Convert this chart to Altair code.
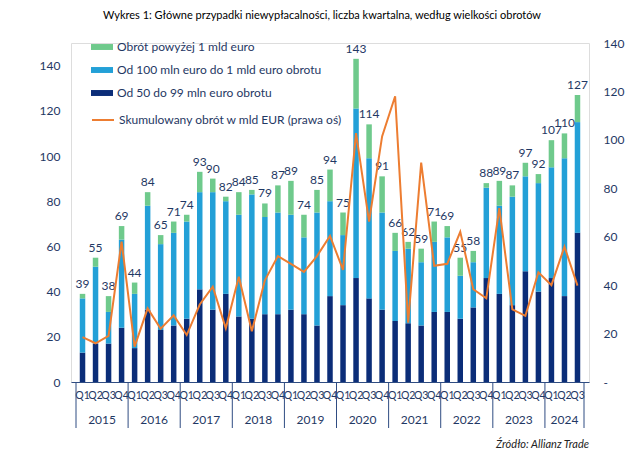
import altair as alt
import pandas as pd

# ---- data ----
years = ["2015", "2016", "2017", "2018", "2019", "2020", "2021", "2022", "2023", "2024"]
quarters = ["Q1", "Q2", "Q3", "Q4"] * 9 + ["Q1", "Q2", "Q3"]

dark = [13, 17, 17, 24, 15, 32, 23, 25, 28, 41, 32, 39, 29, 28, 30, 30, 32, 30, 25, 38,
        34, 46, 37, 32, 27, 26, 25, 31, 31, 28, 33, 46, 39, 34, 49, 40, 46, 38, 66]
mid = [24, 34, 14, 39, 24, 46, 38, 41, 43, 43, 52, 41, 45, 55, 43, 45, 42, 34, 50, 42,
       31, 75, 62, 43, 31, 33, 28, 31, 33, 19, 20, 40, 39, 48, 42, 48, 49, 61, 49]
green = [2, 4, 7, 6, 5, 6, 4, 5, 3, 9, 6, 2, 10, 2, 6, 12, 15, 10, 10, 14,
         10, 22, 15, 16, 8, 3, 6, 9, 5, 8, 5, 2, 11, 5, 6, 4, 12, 11, 12]
totals = [39, 55, 38, 69, 44, 84, 65, 71, 74, 93, 90, 82, 84, 85, 79, 87, 89, 74, 85, 94,
          75, 143, 114, 91, 66, 62, 59, 71, 69, 55, 58, 88, 89, 87, 97, 92, 107, 110, 127]
turnover = [18.5, 16, 19, 58, 14.6, 30.4, 22, 27.5, 19.4, 32, 39.4, 22.2, 43.5, 21, 42, 52,
            48.8, 45.5, 52, 60.3, 46.3, 102.8, 66.2, 101.4, 118, 24.5, 90.6, 48,
            48.8, 62, 38.3, 34.6, 71.8, 30, 27.3, 45.3, 40, 55.9, 39.8]

year_mid = [1.5, 5.5, 9.5, 13.5, 17.5, 21.5, 25.5, 29.5, 33.5, 37]
separators = [-0.5, 3.5, 7.5, 11.5, 15.5, 19.5, 23.5, 27.5, 31.5, 35.5, 38.5]

S_GREEN = "Obrót powyżej 1 mld euro"
S_MID = "Od 100 mln euro do 1 mld euro obrotu"
S_DARK = "Od 50 do 99 mln euro obrotu"
S_LINE = "Skumulowany obrót w mld EUR (prawa oś)"
TITLE = "Wykres 1: Główne przypadki niewypłacalności, liczba kwartalna, według wielkości obrotów"
SOURCE = "Źródło: Allianz Trade"

FONT = "Lato"
NAVY = "#1F3864"
C_GREEN, C_MID, C_DARK, C_LINE = "#6FCA8C", "#23A0D7", "#0B2D78", "#ED7D31"

W, H = 518, 339

idx = list(range(len(totals)))
rows = []
for i in idx:
    rows.append({"idx": i, "series": S_DARK, "value": dark[i], "ord": 0})
    rows.append({"idx": i, "series": S_MID, "value": mid[i], "ord": 1})
    rows.append({"idx": i, "series": S_GREEN, "value": green[i], "ord": 2})
bars_df = pd.DataFrame(rows)
tot_df = pd.DataFrame({"idx": idx, "total": totals, "q": quarters, "turn": turnover, "s": [S_LINE] * len(idx)})
year_df = pd.DataFrame({"mid": year_mid, "year": years})
sep_df = pd.DataFrame({"x": separators})

xscale = alt.Scale(domain=[-0.5, 38.5], nice=False, zero=False)
xenc = alt.X("idx:Q", scale=xscale,
             axis=alt.Axis(labels=False, ticks=False, grid=False, title=None,
                           domainColor="#2F4C82", domainWidth=1))

left_scale = alt.Scale(domain=[0, 150], nice=False)
left_axis = alt.Axis(values=list(range(0, 141, 20)), grid=False, ticks=False, domain=False,
                     title=None, labelFont=FONT, labelFontSize=12, labelColor=NAVY,
                     labelPadding=11)

bars = alt.Chart(bars_df).mark_bar(size=5.5).encode(
    x=xenc,
    y=alt.Y("value:Q", stack="zero", scale=left_scale, axis=left_axis, title=None),
    color=alt.Color("series:N",
                    scale=alt.Scale(domain=[S_GREEN, S_MID, S_DARK], range=[C_GREEN, C_MID, C_DARK]),
                    legend=alt.Legend(orient="none", legendX=20, legendY=-7, title=None,
                                      symbolType="M-1,-0.27H1V0.27H-1Z", symbolSize=484,
                                      symbolStrokeWidth=0, labelFont=FONT, labelFontSize=12,
                                      labelColor=NAVY, rowPadding=6, padding=0, labelOffset=4,
                                      labelLimit=0)),
    order=alt.Order("ord:Q", sort="ascending"),
)

labels = alt.Chart(tot_df).mark_text(font=FONT, fontSize=12, color=NAVY, baseline="alphabetic", dy=-6).encode(
    x=alt.X("idx:Q", scale=xscale),
    y=alt.Y("total:Q", scale=left_scale, axis=left_axis, title=None),
    text="total:Q",
)

line = alt.Chart(tot_df).mark_line(strokeWidth=2).encode(
    x=alt.X("idx:Q", scale=xscale),
    y=alt.Y("turn:Q", scale=alt.Scale(domain=[0, 140], nice=False),
            axis=alt.Axis(orient="right", values=list(range(0, 141, 20)), grid=False, ticks=False,
                          domain=False, title=None, labelFont=FONT, labelFontSize=12, labelColor=NAVY,
                          labelPadding=14, labelExpr="datum.value == 0 ? '-' : datum.label")),
    stroke=alt.Stroke("s:N", scale=alt.Scale(domain=[S_LINE], range=[C_LINE]),
                      legend=alt.Legend(orient="none", legendX=20, legendY=65, title=None,
                                        symbolType="stroke", symbolSize=484, symbolStrokeWidth=2,
                                        labelFont=FONT, labelFontSize=12, labelColor=NAVY,
                                        padding=0, labelOffset=4, labelLimit=0)),
)

qlabels = alt.Chart(tot_df).mark_text(font=FONT, fontSize=10.5, color=NAVY, baseline="middle").encode(
    x=alt.X("idx:Q", scale=xscale),
    y=alt.value(H + 14),
    text="q:N",
)

ylabels = alt.Chart(year_df).mark_text(font=FONT, fontSize=12, color=NAVY, baseline="middle").encode(
    x=alt.X("mid:Q", scale=xscale),
    y=alt.value(H + 38),
    text="year:N",
)

seps = alt.Chart(sep_df).mark_rule(color="#2F4C82", strokeWidth=1).encode(
    x=alt.X("x:Q", scale=xscale),
    y=alt.value(H),
    y2=alt.value(H + 46),
)

title = alt.Chart(pd.DataFrame({"t": [TITLE]})).mark_text(
    font=FONT, fontSize=11, color="#000000", align="center", baseline="middle").encode(
    text="t:N", x=alt.value(W / 2 - 8), y=alt.value(-27))

source = alt.Chart(pd.DataFrame({"t": [SOURCE]})).mark_text(
    font=FONT, fontSize=11, fontStyle="italic", color="#222222", align="right", baseline="middle").encode(
    text="t:N", x=alt.value(W), y=alt.value(H + 63))

left = alt.layer(bars, labels)
chart = alt.layer(left, line, qlabels, ylabels, seps, title, source).resolve_scale(
    y="independent"
).properties(
    width=W, height=H,
    autosize=alt.AutoSizeParams(type="none"),
    padding={"left": 63, "top": 35, "right": 43, "bottom": 74},
).configure_view(stroke=None).configure(background="white")

chart.save("out.html", embed_options={"renderer": "svg", "actions": False})
